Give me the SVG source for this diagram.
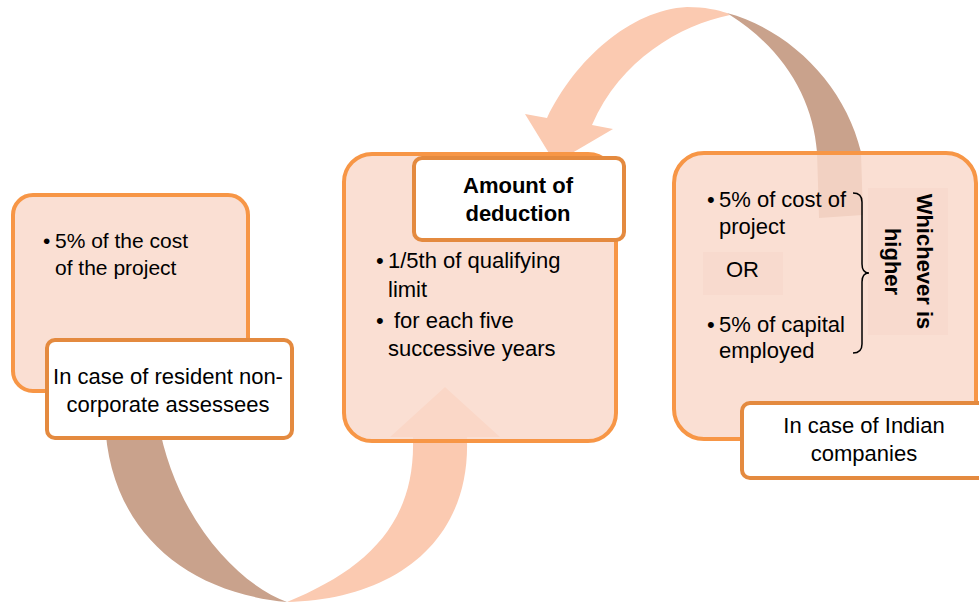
<svg xmlns="http://www.w3.org/2000/svg" width="979" height="602" viewBox="0 0 979 602">
<style>
.box{fill:#F9D9CB;fill-opacity:0.85;stroke:#F79646;stroke-width:4}
.lbl{fill:#FFFFFF;stroke:#E48A3F;stroke-width:4}
.t{font-family:"Liberation Sans",Arial,sans-serif;font-size:22px;fill:#000}
.b{font-weight:bold}
.light{fill:#FBCAB1}
.dark{fill:#C9A28C}
.faint{fill:#F5D2C2;fill-opacity:0.3}
</style>
<rect width="979" height="602" fill="#FFFFFF"/>
<g id="connectors">
  <path class="light" d="M 547 118 C 575 60 630 10 687 7 C 705 7 718 10 727 13 L 730 15 C 680 25 620 60 592 125 L 613 129 L 555 163 L 525 114 Z"/>
  <path class="dark" d="M 727 13 C 790 30 845 85 861 152 L 863 215 L 819 218 L 817 152 C 813 100 785 50 730 15 Z"/>
  <path class="dark" d="M 105 420 C 108 525 180 592 287 602 C 240 585 175 520 158 420 Z"/>
  <path class="light" d="M 287 602 C 390 600 470 545 467 440 L 467 437 L 500 437 L 445 387 L 390 437 L 413 437 L 413 440 C 415 525 365 570 287 602 Z"/>
</g>
<g id="node-left">
  <rect class="box" x="13" y="195" width="235" height="196" rx="20"/>
  <text class="t" style="font-size:21px" x="43" y="248">•</text>
  <text class="t" style="font-size:21px" x="55" y="248">5% of the cost</text>
  <text class="t" style="font-size:21px" x="55" y="275">of the project</text>
</g>
<g id="label-left">
  <rect class="lbl" x="47" y="340" width="245" height="98" rx="8"/>
  <text class="t" x="168" y="384" text-anchor="middle">In case of resident non-</text>
  <text class="t" x="168" y="412" text-anchor="middle">corporate assessees</text>
</g>
<g id="node-middle">
  <rect class="box" x="344" y="154" width="272" height="287" rx="28"/>
  <text class="t" x="376" y="268">•</text>
  <text class="t" x="388" y="268">1/5th of qualifying</text>
  <text class="t" x="388" y="297">limit</text>
  <text class="t" x="376" y="328">•</text>
  <text class="t" x="394" y="328">for each five</text>
  <text class="t" x="388" y="356">successive years</text>
</g>
<g id="label-middle">
  <rect class="lbl" x="414" y="158" width="210" height="82" rx="8"/>
  <text class="t b" x="518" y="193" text-anchor="middle">Amount of</text>
  <text class="t b" x="518" y="221" text-anchor="middle">deduction</text>
</g>
<g id="node-right">
  <rect class="box" x="674" y="153" width="302" height="286" rx="30"/>
  <rect class="faint" x="703" y="252" width="80" height="43"/>
  <rect class="faint" x="868" y="188" width="80" height="147"/>
  <text class="t" x="707" y="207">•</text>
  <text class="t" x="719" y="207">5% of cost of</text>
  <text class="t" x="719" y="234">project</text>
  <text class="t" x="726" y="277">OR</text>
  <text class="t" x="707" y="332">•</text>
  <text class="t" x="719" y="332">5% of capital</text>
  <text class="t" x="719" y="358">employed</text>
  <path d="M 853 193 Q 862 193 862 202 L 862 264 Q 862 273 869 273 Q 862 273 862 282 L 862 344 Q 862 353 853 353" fill="none" stroke="#000" stroke-width="1.5"/>
  <text class="t b" transform="translate(917 261.5) rotate(90)" text-anchor="middle">Whichever is</text>
  <text class="t b" transform="translate(885 261.5) rotate(90)" text-anchor="middle">higher</text>
</g>
<g id="label-right">
  <rect class="lbl" x="742" y="403" width="244" height="75" rx="8"/>
  <text class="t" x="864" y="433" text-anchor="middle">In case of Indian</text>
  <text class="t" x="864" y="461" text-anchor="middle">companies</text>
</g>
</svg>
